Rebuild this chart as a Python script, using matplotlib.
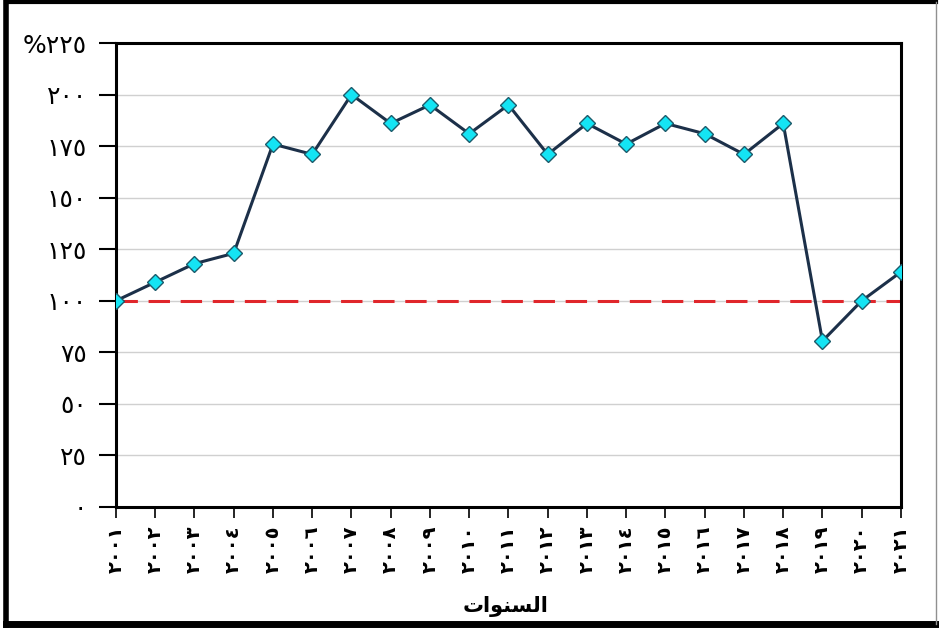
import matplotlib
matplotlib.use("Agg")
import matplotlib.pyplot as plt
from matplotlib.lines import Line2D

# data
years = list(range(2001, 2022))
values = [100, 109, 118, 123, 176, 171, 200, 186, 195, 181, 195,
          171, 186, 176, 186, 181, 171, 186, 80.5, 100, 114]
baseline = 100
y_ticks = [0, 25, 50, 75, 100, 125, 150, 175, 200, 225]

AR_DIGITS = "٠١٢٣٤٥٦٧٨٩"

def to_arabic(n):
    return "".join(AR_DIGITS[int(c)] for c in str(n))

year_labels = [to_arabic(y) for y in years]
y_labels = [to_arabic(v) for v in y_ticks]
y_labels[-1] = "%" + y_labels[-1]

# "السنوات" shaped by hand (presentation forms, visual order)
x_title = "\uFE95\uFE8D\uFEEE\uFEE8\uFEB4\uFEDF\uFE8D"

plt.rcParams['font.family'] = ['DejaVu Sans']

fig = plt.figure(figsize=(9.39, 6.28), dpi=100)
ax = fig.add_axes([0.1235, 0.1927, 0.836, 0.7388])

x = list(range(len(years)))
ax.axhline(baseline, color="#e0262b", lw=2.2, dashes=(7, 3.5), zorder=2)
ax.plot(x, values, color="#1c3049", lw=2.2, marker="D", markersize=8,
        markerfacecolor="#14e4f4", markeredgecolor="#1c5b6b",
        markeredgewidth=1, zorder=3)

ax.set_xlim(0, len(years) - 1)
ax.set_ylim(0, 225)
ax.set_yticks(y_ticks)
ax.set_yticklabels(y_labels, fontsize=18)
ax.set_xticks(x)
ax.set_xticklabels(year_labels, rotation=90, fontsize=14, fontweight="bold")
ax.tick_params(axis="y", length=12, width=1.5, pad=9)
ax.tick_params(axis="x", length=8, width=1.2, pad=5)
ax.yaxis.grid(True, color="#d0d0d0", lw=1)
ax.set_axisbelow(True)
for s in ax.spines.values():
    s.set_linewidth(2.2)

fig.text(0.538, 0.035, x_title, fontsize=15, fontweight="bold",
         ha="center", va="center")

# outer frame
fig.add_artist(Line2D([0.006, 0.006], [0.005, 0.997], color="black", lw=4))
fig.add_artist(Line2D([0.006, 0.997], [0.997, 0.997], color="black", lw=3))
fig.add_artist(Line2D([0.006, 0.997], [0.007, 0.007], color="black", lw=5))
fig.add_artist(Line2D([0.997, 0.997], [0.007, 0.997], color="#909090", lw=1))

fig.savefig("out.png", dpi=100)
